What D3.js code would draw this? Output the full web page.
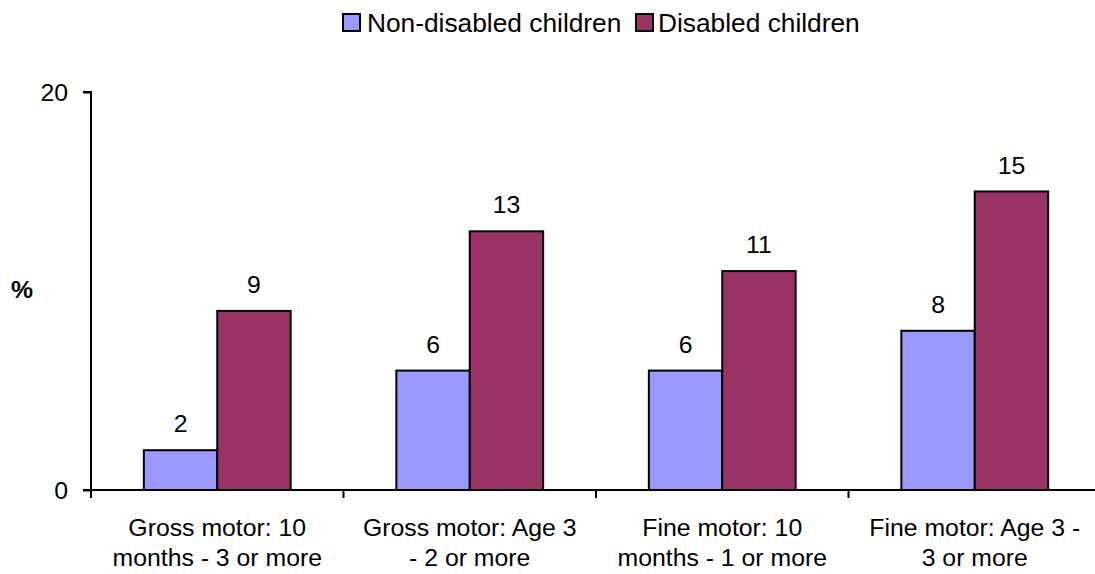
<!DOCTYPE html>
<html>
<head>
<meta charset="utf-8">
<script src="https://cdn.jsdelivr.net/npm/d3@7"></script>
<style>
  html, body { margin: 0; padding: 0; background: #fff; }
  svg { display: block; font-family: "Liberation Sans", Arial, sans-serif; }
</style>
</head>
<body>
<svg id="chart" width="1095" height="574"></svg>
<script>
// Motor development delays: share of children by disability status
const categories = [
  ["Gross motor: 10", "months - 3 or more"],
  ["Gross motor: Age 3", "- 2 or more"],
  ["Fine motor: 10", "months - 1 or more"],
  ["Fine motor: Age 3 -", "3 or more"]
];
const seriesNames = ["Non-disabled children", "Disabled children"];
const nonDisabled = [2, 6, 6, 8];
const disabled = [9, 13, 11, 15];
const yTicks = [0, 20];
const colors = ["#9999FF", "#993366"];

const FONT = 24.8;
const svg = d3.select("#chart");
const margin = { left: 91, top: 92, right: 1101, bottom: 490 };

const x = d3.scaleBand()
  .domain(d3.range(categories.length))
  .range([margin.left, margin.right])
  .paddingInner(0)
  .paddingOuter(0);

const y = d3.scaleLinear().domain([0, 20]).range([margin.bottom, margin.top]);

const inner = d3.scaleBand()
  .domain(d3.range(seriesNames.length))
  .range([0, x.bandwidth()])
  .paddingInner(0)
  .paddingOuter(0.72);

const values = [nonDisabled, disabled];

// bars with value labels
values.forEach((vals, s) => {
  svg.append("g").selectAll("rect")
    .data(vals)
    .join("rect")
    .attr("x", (d, i) => x(i) + inner(s))
    .attr("y", d => y(d))
    .attr("width", inner.bandwidth())
    .attr("height", d => y(0) - y(d))
    .attr("fill", colors[s])
    .attr("stroke", "#000")
    .attr("stroke-width", 2);

  svg.append("g").selectAll("text")
    .data(vals)
    .join("text")
    .attr("x", (d, i) => x(i) + inner(s) + inner.bandwidth() / 2)
    .attr("y", d => y(d) - 18)
    .attr("text-anchor", "middle")
    .attr("font-size", FONT)
    .attr("fill", "#000")
    .text(d => d);
});

// y axis
const yAxis = d3.axisLeft(y).tickValues(yTicks).tickSize(8).tickPadding(15);
const gy = svg.append("g").attr("transform", `translate(${margin.left},0)`).call(yAxis);
gy.select(".domain").attr("stroke", "#000").attr("stroke-width", 2).attr("d", `M-8,${y(20)}H0V${y(0)}H-8`);
gy.selectAll(".tick line").attr("stroke", "#000").attr("stroke-width", 2);
gy.selectAll(".tick text").attr("font-size", FONT).attr("fill", "#000")
  .attr("font-family", "Liberation Sans, Arial, sans-serif").attr("dy", "0.35em");

// x axis
const xAxis = d3.axisBottom(x).tickSize(0).tickFormat("");
const gx = svg.append("g").attr("transform", `translate(0,${margin.bottom})`).call(xAxis);
gx.select(".domain").attr("stroke", "#000").attr("stroke-width", 2).attr("d", `M${margin.left - 8},0H${margin.right}`);
gx.selectAll(".tick").remove();
// category boundary ticks
const boundaries = d3.range(categories.length + 1).map(i => margin.left + i * x.bandwidth());
gx.selectAll("line.sep")
  .data(boundaries)
  .join("line")
  .attr("class", "sep")
  .attr("x1", d => d).attr("x2", d => d)
  .attr("y1", 0).attr("y2", 8)
  .attr("stroke", "#000").attr("stroke-width", 2);

// category labels
const catG = svg.append("g");
categories.forEach((lines, i) => {
  const cx = x(i) + x.bandwidth() / 2;
  const t = catG.append("text")
    .attr("x", cx)
    .attr("y", 536)
    .attr("text-anchor", "middle")
    .attr("font-size", FONT)
    .attr("fill", "#000");
  lines.forEach((ln, k) => {
    t.append("tspan")
      .attr("x", cx)
      .attr("dy", k === 0 ? 0 : 30)
      .text(ln);
  });
});

// y axis title
svg.append("text")
  .attr("x", 22)
  .attr("y", 298)
  .attr("text-anchor", "middle")
  .attr("font-size", FONT)
  .attr("font-weight", "bold")
  .attr("fill", "#000")
  .text("%");

// legend
const legendItems = [
  { name: seriesNames[0], color: colors[0], x: 343, tx: 367 },
  { name: seriesNames[1], color: colors[1], x: 636, tx: 658 }
];
const lg = svg.append("g");
legendItems.forEach(it => {
  lg.append("rect")
    .attr("x", it.x).attr("y", 14)
    .attr("width", 17).attr("height", 17)
    .attr("fill", it.color).attr("stroke", "#000").attr("stroke-width", 2);
  lg.append("text")
    .attr("x", it.tx).attr("y", 32)
    .attr("font-size", 26.3)
    .attr("fill", "#000")
    .text(it.name);
});
</script>
</body>
</html>
